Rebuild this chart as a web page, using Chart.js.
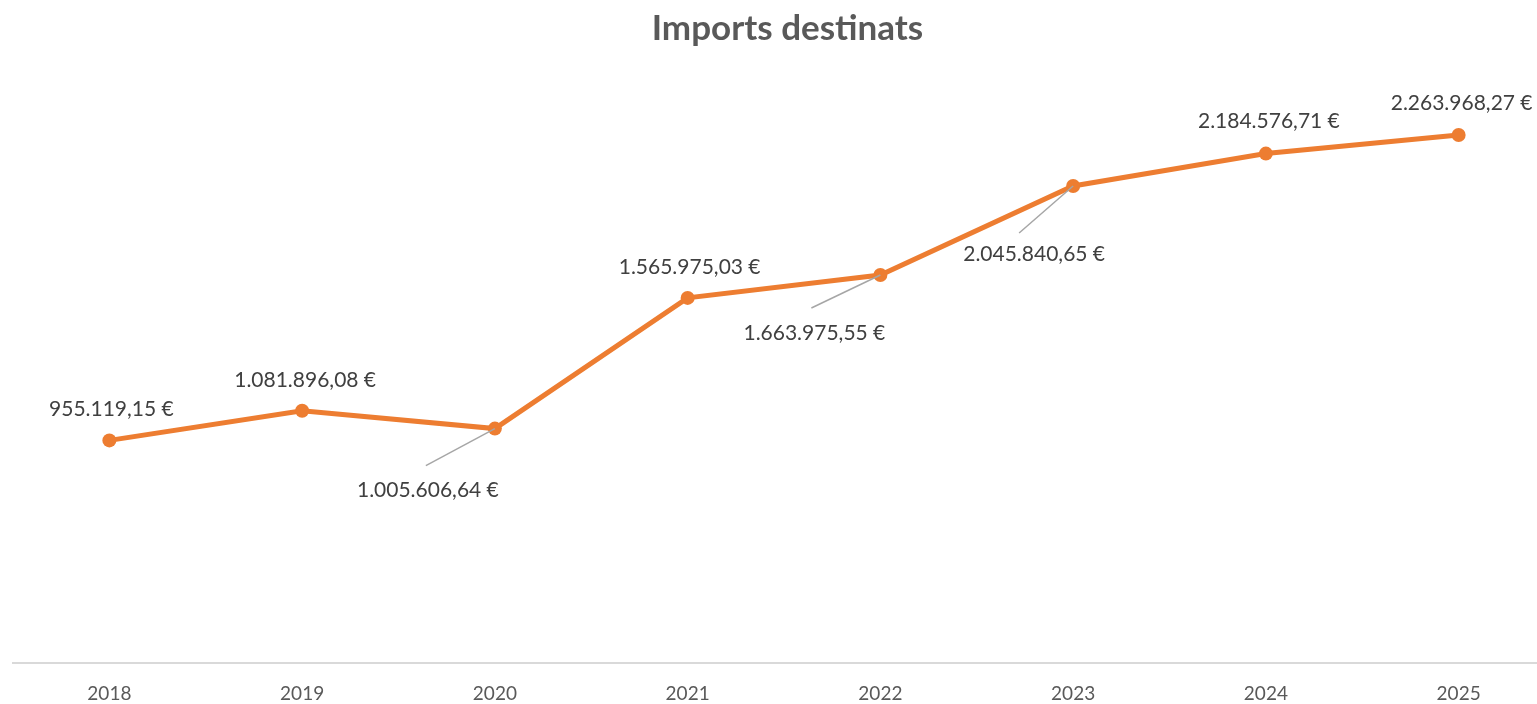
<!DOCTYPE html>
<html>
<head>
<meta charset="utf-8">
<script src="https://cdn.jsdelivr.net/npm/chart.js@4/dist/chart.umd.min.js"></script>
<style>
    html, body { margin: 0; padding: 0; background: #fff; overflow: hidden; }
    #wrap { width: 1562px; height: 724px; }
</style>
</head>
<body>
<div id="wrap"><canvas id="chart-canvas"></canvas></div>
<script>
const years = ['2018', '2019', '2020', '2021', '2022', '2023', '2024', '2025'];
const imports = [955119.15, 1081896.08, 1005606.64, 1565975.03, 1663975.55, 2045840.65, 2184576.71, 2263968.27];

// where each value label sits relative to its point, and whether a leader line is drawn
const labelOffsets = [[2, -31], [3, -31], [-67, 62], [2, -31], [-66, 58], [-39, 68], [3, -32], [3, -32]];
const leaderStarts = [null, null, [-69, 37], null, [-69, 33], [-54, 47], null, null];

const FONT = 'Lato, Carlito, Calibri, sans-serif';

function formatEuro(v) {
    const parts = v.toFixed(2).split('.');
    const intPart = parts[0].replace(/\B(?=(\d{3})+(?!\d))/g, '.');
    return `${intPart},${parts[1]} €`;
}

const valueLabels = {
    id: 'valueLabels',
    afterDatasetsDraw(chart) {
        const ctx = chart.ctx;
        const meta = chart.getDatasetMeta(0);
        ctx.save();
        meta.data.forEach((pt, i) => {
            const lead = leaderStarts[i];
            if (lead) {
                ctx.strokeStyle = '#a6a6a6';
                ctx.lineWidth = 1.5;
                ctx.beginPath();
                ctx.moveTo(pt.x + lead[0], pt.y + lead[1]);
                ctx.lineTo(pt.x, pt.y);
                ctx.stroke();
            }
        });
        ctx.font = `21px ${FONT}`;
        ctx.fillStyle = '#404040';
        ctx.textAlign = 'center';
        ctx.textBaseline = 'middle';
        meta.data.forEach((pt, i) => {
            const off = labelOffsets[i];
            ctx.fillText(formatEuro(imports[i]), pt.x + off[0], pt.y + off[1]);
        });
        ctx.restore();
    }
};

function init() {
    const ctx = document.getElementById('chart-canvas').getContext('2d');
    window.currentChart = new Chart(ctx, {
        type: 'line',
        data: {
            labels: years,
            datasets: [{
                label: 'Imports destinats',
                data: imports,
                borderColor: '#ed7d31',
                backgroundColor: '#ed7d31',
                borderWidth: 5,
                pointRadius: 7,
                pointBackgroundColor: '#ed7d31',
                pointBorderWidth: 0,
                tension: 0,
                clip: false
            }]
        },
        options: {
            responsive: true,
            maintainAspectRatio: false,
            animation: false,
            devicePixelRatio: 1,
            layout: { padding: { left: 13, right: 0, top: 0, bottom: 0 } },
            plugins: {
                legend: { display: false },
                tooltip: { enabled: false },
                title: {
                    display: true,
                    text: 'Imports destinats',
                    color: '#595959',
                    font: { family: FONT, size: 35, weight: 'bold' },
                    padding: { top: 8, bottom: 30 }
                }
            },
            scales: {
                x: {
                    offset: true,
                    grid: { display: false, drawTicks: false },
                    border: { display: true, color: '#d9d9d9', width: 2 },
                    ticks: {
                        color: '#595959',
                        font: { family: FONT, size: 19 },
                        padding: 19
                    }
                },
                y: {
                    display: false,
                    min: 0,
                    max: 2500000
                }
            }
        },
        plugins: [valueLabels]
    });
}

document.addEventListener('DOMContentLoaded', init);
</script>
</body>
</html>
